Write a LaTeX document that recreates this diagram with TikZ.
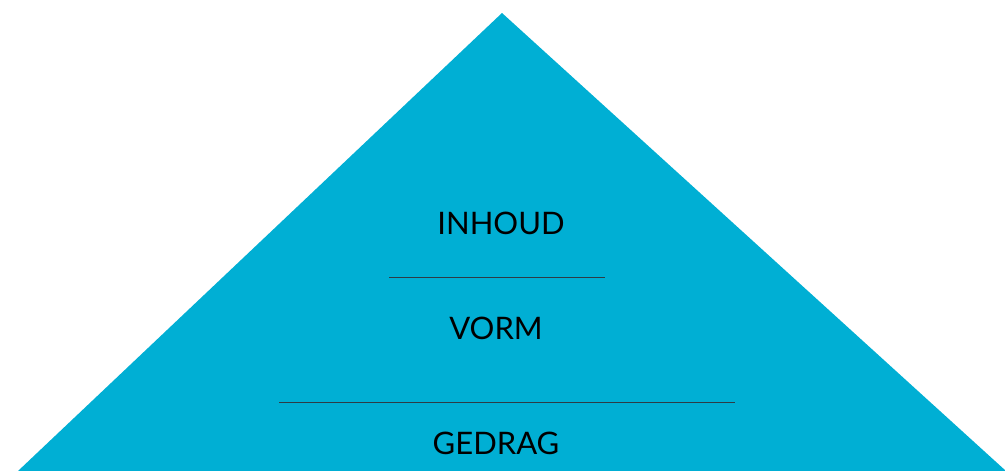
\documentclass[tikz,border=0pt]{standalone}
\usepackage{fontspec}
\setmainfont{Lato}
\definecolor{pyr}{RGB}{0,175,212}
\definecolor{rule}{RGB}{45,60,70}
\begin{document}
\begin{tikzpicture}[x=1pt,y=-1pt,
  label/.style={anchor=base,inner sep=0pt,font=\fontsize{31}{31}\selectfont,text=black},
  divider/.style={draw=rule,line width=1pt}]
\useasboundingbox (0,0) rectangle (1005,471);
\clip (0,0) rectangle (1005,471);
\fill[pyr] (502,13) coordinate (apex) -- (18,471) coordinate (bl) -- (1006,471) coordinate (br) -- cycle;
\node[label] (inhoud) at (501,234) {INHOUD};
\node[label] (vorm) at (496,339.5) {VORM};
\node[label] (gedrag) at (496,454) {GEDRAG};
\coordinate (l1a) at (389,277.5); \coordinate (l1b) at (605,277.5);
\coordinate (l2a) at (279,402.5); \coordinate (l2b) at (735,402.5);
\draw[divider] (l1a) -- (l1b);
\draw[divider] (l2a) -- (l2b);
\end{tikzpicture}
\end{document}
